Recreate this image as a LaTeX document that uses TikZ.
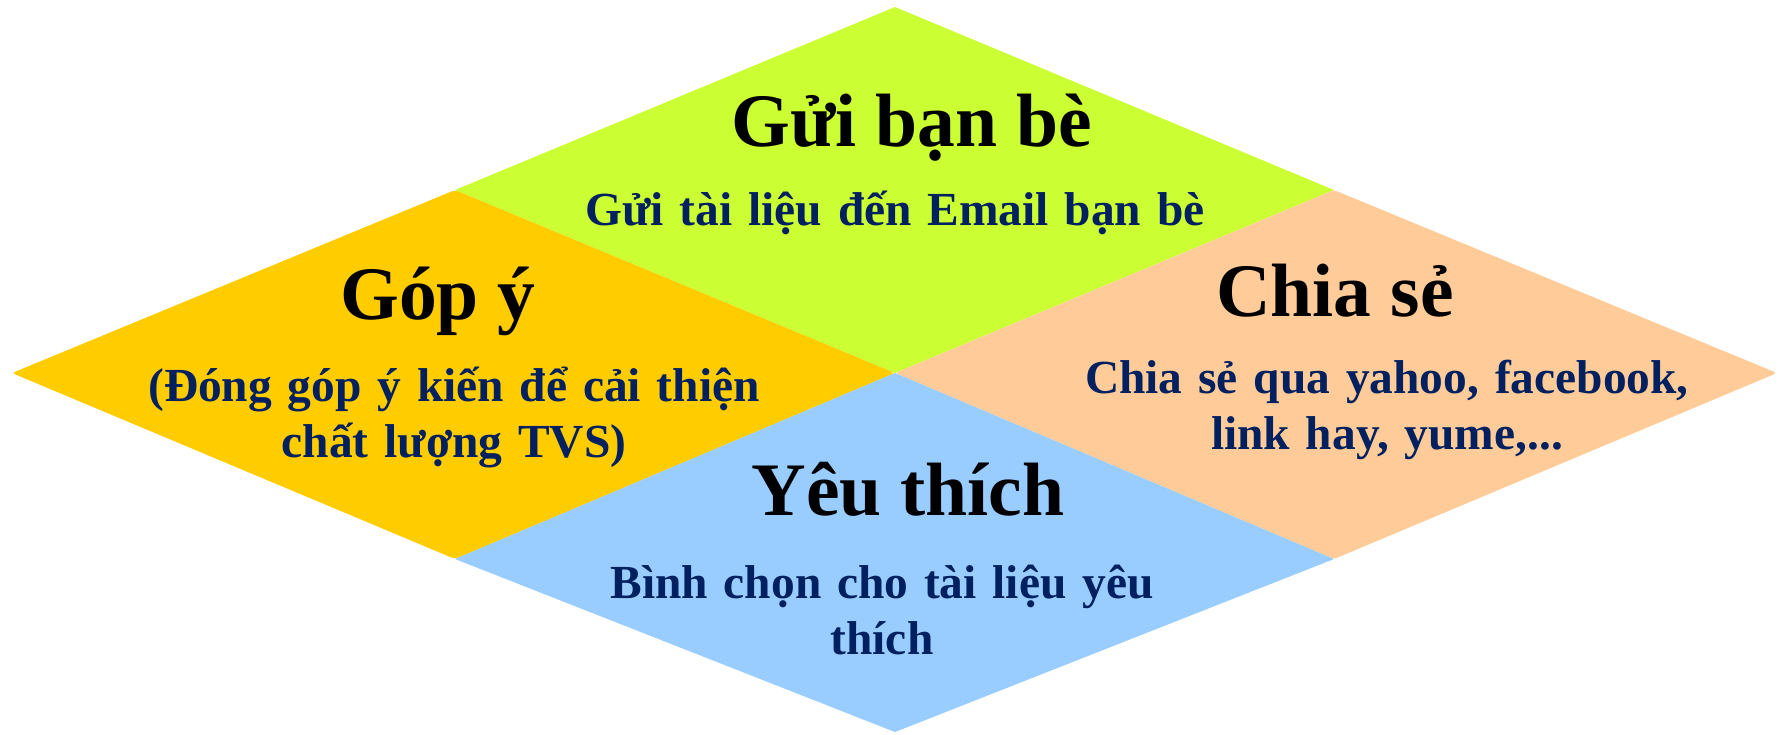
\documentclass[tikz,border=0pt]{standalone}
\usepackage{fontspec}
\setmainfont{Liberation Serif}

\definecolor{leafgreen}{HTML}{CCFF33}
\definecolor{amber}{HTML}{FFCC00}
\definecolor{peach}{HTML}{FFCC99}
\definecolor{skyblue}{HTML}{99CCFF}
\definecolor{navy}{HTML}{002060}

\begin{document}
\begin{tikzpicture}[x=0.1mm,y=-0.1mm,
  heading/.style={font=\bfseries\fontsize{21.5}{26}\selectfont,anchor=base,inner sep=0pt},
  note/.style={font=\bfseries\fontsize{13.5}{16.2}\selectfont,text=navy,anchor=base,
    text width=7cm,align=center,inner sep=0pt}]
  \useasboundingbox (0,0) rectangle (1785,734);
  % corners of the four rhombi
  \coordinate (T) at (895,7);
  \coordinate (L) at (12,373);
  \coordinate (R) at (1777,373);
  \coordinate (B) at (895,732);
  \coordinate (C) at (895,373);
  \coordinate (UL) at (455,190);
  \coordinate (UR) at (1334,190);
  \coordinate (LL) at (455,559);
  \coordinate (LR) at (1334,559);
  \fill[leafgreen] (T) -- (UR) -- (C) -- (UL) -- cycle;
  \fill[amber,rounded corners=1pt] (UL) -- (C) -- (LL) -- (L) -- cycle;
  \fill[peach,rounded corners=1pt] (UR) -- (R) -- (LR) -- (C) -- cycle;
  \fill[skyblue] (C) -- (LR) -- (B) -- (LL) -- cycle;
  % texts
  \node[heading] (gui) at (912,146) {Gửi bạn bè};
  \node[note] (guinote) at (895,225) {Gửi tài liệu đến Email bạn bè};
  \node[heading] (gopy) at (438,319) {Góp ý};
  \node[note] (gopynote) at (454,401) {(Đóng góp ý kiến để cải thiện\\ chất lượng TVS)};
  \node[heading] (chiase) at (1335,316) {Chia sẻ};
  \node[note] (chiasenote) at (1387,393) {Chia sẻ qua yahoo, facebook,\\ link hay, yume,...};
  \node[heading] (yeuthich) at (908,515) {Yêu thích};
  \node[note] (yeuthichnote) at (882,598) {Bình chọn cho tài liệu yêu\\ thích};
\end{tikzpicture}
\end{document}
